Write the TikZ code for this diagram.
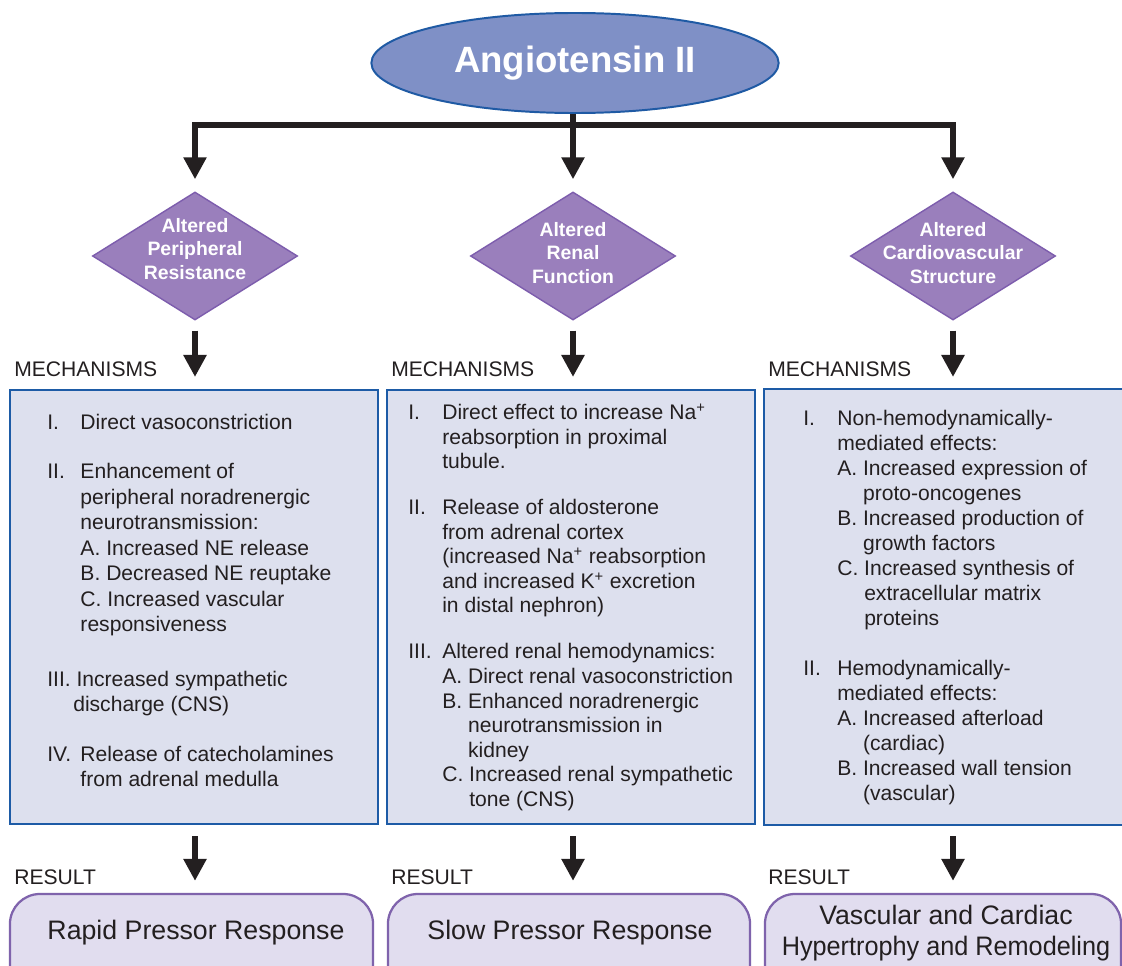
\documentclass[tikz,border=0pt]{standalone}
\usepackage{fontspec}
\setmainfont{Liberation Sans}
\usepackage{array}
\usepackage{graphicx}
\usetikzlibrary{arrows.meta,shapes.geometric}
\definecolor{ink}{HTML}{231F20}
\definecolor{angfill}{HTML}{7F90C6}
\definecolor{angline}{HTML}{1F5AA4}
\definecolor{diafill}{HTML}{9A7FBC}
\definecolor{dialine}{HTML}{7D5DAD}
\definecolor{mechfill}{HTML}{DDE0EE}
\definecolor{mechline}{HTML}{1D5BA6}
\definecolor{resfill}{HTML}{E1DDEF}
\definecolor{resline}{HTML}{7F63AC}

\tikzset{
  flow/.style={draw=ink,line width=4.3pt,-{Triangle[width=0.55cm,length=0.55cm]}},
  effect/.style={diamond,draw=dialine,fill=diafill,line width=1pt,minimum width=5.125cm,minimum height=3.2cm,inner sep=0pt},
  efftext/.style={text=white,font=\fontsize{13.8}{17}\selectfont\bfseries,align=center},
  mechbox/.style={draw=mechline,fill=mechfill,line width=1.4pt,minimum height=10.85cm,inner sep=0pt},
  mechtext/.style={anchor=base west,text=ink,inner sep=0pt,font=\fontsize{15}{17.8}\selectfont},
  resbox/.style={draw=resline,fill=resfill,line width=1.6pt,rounded corners=0.75cm,minimum height=2.65cm,inner sep=0pt},
  restext/.style={text=ink,font=\fontsize{19}{22}\selectfont,align=center},
  stagelbl/.style={anchor=west,text=ink,inner sep=0pt,font=\fontsize{15}{17.8}\selectfont}
}

\begin{document}
\begin{tikzpicture}[x=0.025cm,y=-0.025cm]
\useasboundingbox (0,0) rectangle (1122,965);
\clip (0,0) rectangle (1122,965);
\fill[white] (0,0) rectangle (1122,965);

\node[ellipse,draw=angline,fill=angfill,line width=1.4pt,minimum width=10.18cm,minimum height=2.5cm,inner sep=0pt,
  text=white,font=\fontsize{26}{30}\selectfont\bfseries] (ang) at (575,63) {Angiotensin II};

\node[effect] (dPR) at (195,256) {};
\node[effect] (dRF) at (573,256) {};
\node[effect] (dCS) at (953,256) {};
\node[efftext] (dPRt) at (195,249) {Altered\\Peripheral\\Resistance};
\node[efftext] (dRFt) at (573,253) {Altered\\Renal\\Function};
\node[efftext] (dCSt) at (953,253) {Altered\\Cardiovascular\\Structure};

\coordinate (split) at (573,125);
\draw[flow,shorten >=0.3cm] (ang.south -| dRF.north) -- (dRF.north);
\draw[flow,shorten >=0.3cm] (split) -| (dPR.north);
\draw[flow,shorten >=0.3cm] (split) -| (dCS.north);

\node[stagelbl] (mlPR) at (14,369) {MECHANISMS};
\node[stagelbl] (mlRF) at (391,369) {MECHANISMS};
\node[stagelbl] (mlCS) at (768,369) {MECHANISMS};

\node[mechbox,minimum width=9.2cm] (mPR) at (194,607) {};
\node[mechbox,minimum width=9.2cm] (mRF) at (571,607) {};
\node[mechbox,draw=none,minimum width=11cm] (mCS) at (985,607) {};
\draw[mechline,line width=1.4pt] (mCS.north east) -- (mCS.north west) -- (mCS.south west) -- (mCS.south east);

\draw[flow,shorten <=0.25cm,shorten >=0.3cm] (dPR.south) -- (dPR.south |- mPR.north);
\draw[flow,shorten <=0.25cm,shorten >=0.3cm] (dRF.south) -- (dRF.south |- mRF.north);
\draw[flow,shorten <=0.25cm,shorten >=0.3cm] (dCS.south) -- (dCS.south |- mCS.north);

\node[mechtext,font=\fontsize{15}{18.1}\selectfont] (mPRt) at (47,429.5) {\begin{tabular}[t]{@{}p{0.83cm}@{}l@{}}
I. & Direct vasoconstriction\\[0.6cm]
II. & Enhancement of\\
 & peripheral noradrenergic\\
 & neurotransmission:\\
 & A. Increased NE release\\
 & B. Decreased NE reuptake\\
 & C. Increased vascular\\
 & responsiveness\\[0.73cm]
\multicolumn{2}{@{}l@{}}{III. Increased sympathetic}\\
\multicolumn{2}{@{}l@{}}{\hspace{0.65cm}discharge (CNS)}\\[0.6cm]
IV. & Release of catecholamines\\
 & from adrenal medulla
\end{tabular}};

\node[mechtext,font=\fontsize{15}{17.5}\selectfont] (mRFt) at (408,419.5) {\begin{tabular}[t]{@{}p{0.85cm}@{}l@{}}
I. & Direct effect to increase Na\textsuperscript{+}\\
 & reabsorption in proximal\\
 & tubule.\\[0.53cm]
II. & Release of aldosterone\\
 & from adrenal cortex\\
 & (increased Na\textsuperscript{+} reabsorption\\
 & and increased K\textsuperscript{+} excretion\\
 & in distal nephron)\\[0.53cm]
III. & Altered renal hemodynamics:\\
 & A. Direct renal vasoconstriction\\
 & B. Enhanced noradrenergic\\
 & \hphantom{B.\ }neurotransmission in\\
 & \hphantom{B.\ }kidney\\
 & C. Increased renal sympathetic\\
 & \hphantom{C.\ }tone (CNS)
\end{tabular}};

\node[mechtext] (mCSt) at (803,425.5) {\begin{tabular}[t]{@{}p{0.85cm}@{}l@{}}
I. & Non-hemodynamically-\\
 & mediated effects:\\
 & A. Increased expression of\\
 & \hphantom{A.\ }proto-oncogenes\\
 & B. Increased production of\\
 & \hphantom{B.\ }growth factors\\
 & C. Increased synthesis of\\
 & \hphantom{C.\ }extracellular matrix\\
 & \hphantom{C.\ }proteins\\[0.62cm]
II. & Hemodynamically-\\
 & mediated effects:\\
 & A. Increased afterload\\
 & \hphantom{A.\ }(cardiac)\\
 & B. Increased wall tension\\
 & \hphantom{B.\ }(vascular)
\end{tabular}};

\node[stagelbl] (rlPR) at (14,877) {RESULT};
\node[stagelbl] (rlRF) at (391,877) {RESULT};
\node[stagelbl] (rlCS) at (768,877) {RESULT};

\node[resbox,minimum width=9.075cm] (rPR) at (191.5,947) {};
\node[resbox,minimum width=9.05cm] (rRF) at (569,947) {};
\node[resbox,minimum width=8.9cm] (rCS) at (943,947) {};
\node[restext] (rPRt) at (196,933) {Rapid Pressor Response};
\node[restext] (rRFt) at (570,933) {Slow Pressor Response};
\node[restext] (rCSt) at (946,933) {Vascular and Cardiac\\\scalebox{0.945}[1]{Hypertrophy and Remodeling}};

\draw[flow,shorten <=0.28cm,shorten >=0.3cm] (mPR.south -| dPR) -- (rPR.north -| dPR);
\draw[flow,shorten <=0.28cm,shorten >=0.3cm] (mRF.south -| dRF) -- (rRF.north -| dRF);
\draw[flow,shorten <=0.28cm,shorten >=0.3cm] (mCS.south -| dCS) -- (rCS.north -| dCS);
\end{tikzpicture}
\end{document}
